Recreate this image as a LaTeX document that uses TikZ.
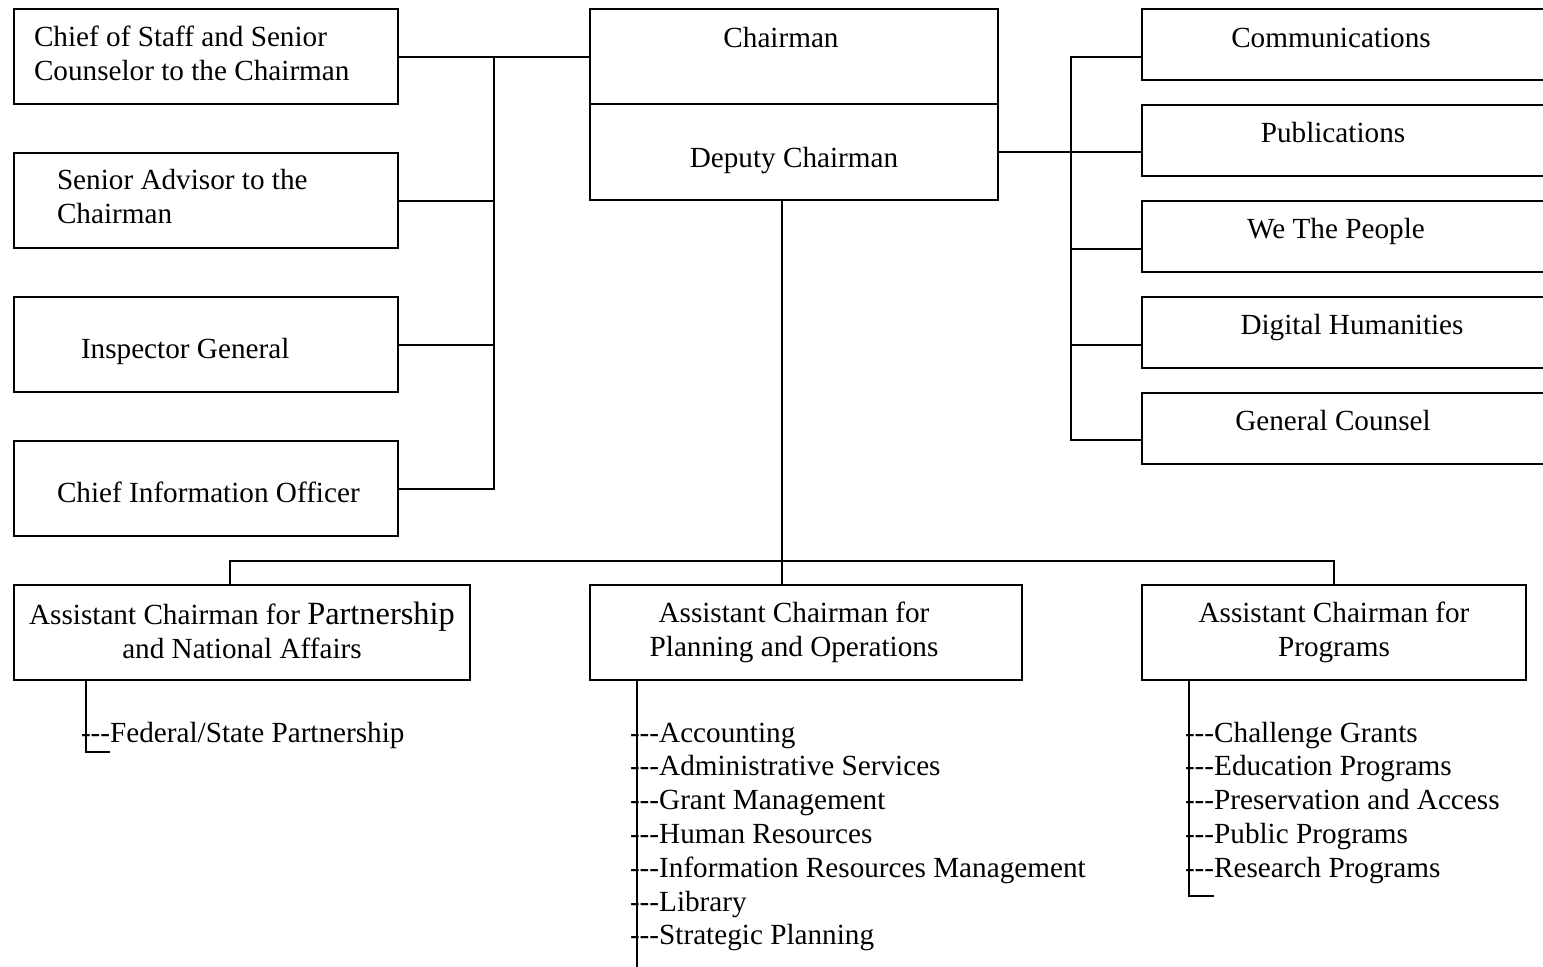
\documentclass[tikz,border=0pt]{standalone}
\usepackage{fontspec}
\setmainfont{Liberation Serif}
\usetikzlibrary{fit,calc}
\newcommand{\tdash}{-{}-{}-}
\begin{document}
\begin{tikzpicture}[x=0.5pt,y=-0.5pt,
  box/.style={draw, line width=1pt, inner sep=0pt, outer sep=0pt},
  lbl/.style={inner sep=0pt, outer sep=0pt, font=\fontsize{14.6}{16.9}\selectfont},
  conn/.style={line width=1pt}]
\clip (0,0) rectangle (1543,966);
\fill[white] (0,0) rectangle (1543,966);
% left boxes
\node[box, fit={(14,9)(398,104)}] (cos) {};
\node[box, fit={(14,153)(398,248)}] (adv) {};
\node[box, fit={(14,297)(398,392)}] (ig) {};
\node[box, fit={(14,441)(398,536)}] (cio) {};
% centre
\node[box, fit={(590,9)(998,104)}] (chair) {};
\node[box, fit={(590,104)(998,200)}] (dep) {};
% right boxes
\node[box, fit={(1142,9)(1560,80)}] (comm) {};
\node[box, fit={(1142,105)(1560,176)}] (pub) {};
\node[box, fit={(1142,201)(1560,272)}] (wtp) {};
\node[box, fit={(1142,297)(1560,368)}] (dh) {};
\node[box, fit={(1142,393)(1560,464)}] (gc) {};
% bottom boxes
\node[box, fit={(14,585)(470,680)}] (pna) {};
\node[box, fit={(590,585)(1022,680)}] (po) {};
\node[box, fit={(1142,585)(1526,680)}] (prog) {};
% labels (multi-line nodes are anchored at the baseline of their last line)
\node[lbl, anchor=base west, align=left] (cosT) at (34,80) {Chief of Staff and Senior\\Counselor to the Chairman};
\node[lbl, anchor=base west, align=left] (advT) at (57,223.5) {Senior Advisor to the\\Chairman};
\node[lbl, anchor=base west] (igT) at (81,358) {Inspector General};
\node[lbl, anchor=base west] (cioT) at (57,502) {Chief Information Officer};
\node[lbl, anchor=base] (chairT) at (781,47) {Chairman};
\node[lbl, anchor=base] (depT) at (794,167) {Deputy Chairman};
\node[lbl, anchor=base] (commT) at (1331,47) {Communications};
\node[lbl, anchor=base] (pubT) at (1333,142) {Publications};
\node[lbl, anchor=base] (wtpT) at (1336,238) {We The People};
\node[lbl, anchor=base] (dhT) at (1352,334) {Digital Humanities};
\node[lbl, anchor=base] (gcT) at (1333,430) {General Counsel};
\node[lbl, anchor=base, align=center] (pnaT) at (242,658) {Assistant Chairman for {\fontsize{16.2}{16.9}\selectfont Partnership}\\and National Affairs};
\node[lbl, anchor=base, align=center] (poT) at (794,656) {Assistant Chairman for\\Planning and Operations};
\node[lbl, anchor=base, align=center] (progT) at (1334,656) {Assistant Chairman for\\Programs};
% lists
\node[lbl, anchor=base west] (pnaL) at (81,742) {\tdash Federal/State Partnership};
\node[lbl, anchor=base west, align=left] (poL) at (630,944.8) {\tdash Accounting\\\tdash Administrative Services\\\tdash Grant Management\\\tdash Human Resources\\\tdash Information Resources Management\\\tdash Library\\\tdash Strategic Planning};
\node[lbl, anchor=base west, align=left] (progL) at (1185,877.2) {\tdash Challenge Grants\\\tdash Education Programs\\\tdash Preservation and Access\\\tdash Public Programs\\\tdash Research Programs};
% connector coordinates
\coordinate (lb) at (494,0);
\coordinate (r1) at (1071,57);
\coordinate (r3) at (1071,249);
\coordinate (r4) at (1071,345);
\coordinate (r5) at (1071,440);
\coordinate (cb) at (782,561);
\coordinate (lbus) at (230,561);
\coordinate (rbus) at (1334,561);
\coordinate (pnaEnd) at (110,752);
\coordinate (poEnd) at (637,970);
\coordinate (progEnd) at (1214,896);
% left bus
\draw[conn] (cos.east) -- (chair.west);
\draw[conn] (lb |- cos.east) -- (lb |- cio.east) -- (cio.east);
\draw[conn] (adv.east) -- (lb |- adv.east);
\draw[conn] (ig.east) -- (lb |- ig.east);
% right bus
\draw[conn] (dep.east) -- (dep.east -| pub.west);
\draw[conn] (r1 -| comm.west) -- (r1) -- (r5) -- (r5 -| gc.west);
\draw[conn] (r3) -- (r3 -| wtp.west);
\draw[conn] (r4) -- (r4 -| dh.west);
% down to assistants
\draw[conn] (dep.south -| cb) -- (po.north -| cb);
\draw[conn] (pna.north -| lbus) -- (lbus) -- (rbus) -- (prog.north -| rbus);
% sub lists
\draw[conn] (pna.south -| pnaEnd) ++(-24,0) -- ++(0,72) -- (pnaEnd);
\draw[conn] (po.south -| poEnd) -- (poEnd);
\draw[conn] (prog.south -| progEnd) ++(-25,0) -- ++(0,216) -- (progEnd);
\end{tikzpicture}
\end{document}
